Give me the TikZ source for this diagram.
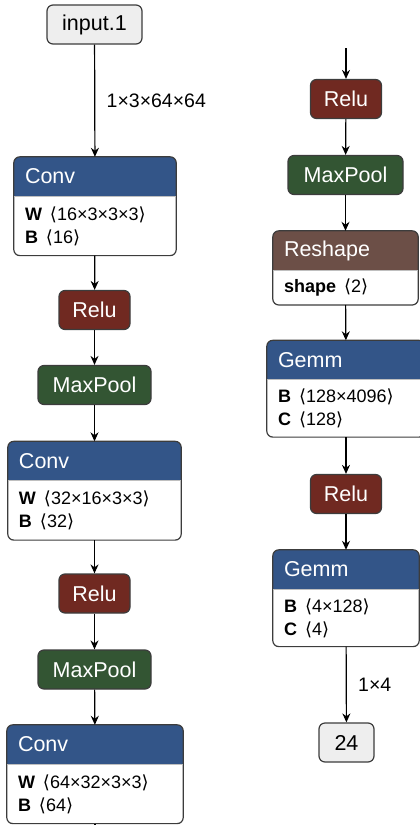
\documentclass[tikz,border=0pt]{standalone}
\usepackage{fontspec}
\setmainfont{Liberation Sans}
\newfontfamily\bracketfont{DejaVu Sans}
\usetikzlibrary{positioning,backgrounds,arrows.meta}

\definecolor{layerblue}{RGB}{51,85,136}
\definecolor{actred}{RGB}{112,41,33}
\definecolor{poolgreen}{RGB}{51,85,51}
\definecolor{shapebrown}{RGB}{108,79,71}
\definecolor{inputgray}{RGB}{238,238,238}
\definecolor{edgegray}{RGB}{60,60,60}

\newcommand{\dims}[1]{\hspace{2pt}{\bracketfont\char"27E8}#1{\bracketfont\char"27E9}}

\tikzset{
  plainbox/.style={draw=edgegray, line width=1.2pt, rounded corners=6pt,
    minimum height=39pt, inner xsep=0pt, font=\fontsize{21.5}{25}\selectfont},
  opbox/.style={plainbox, text=white},
  headbox/.style={text width=#1, minimum height=39pt, inner xsep=11pt,
    inner ysep=0pt, align=left, text=white, font=\fontsize{21.5}{25}\selectfont},
  attrbox/.style={text width=#1, inner xsep=11pt, inner ysep=8.5pt,
    align=left, font=\fontsize{18}{23}\selectfont},
  flow/.style={-{Stealth[length=9pt,width=8pt]}, line width=1.2pt},
  dimlabel/.style={anchor=west, xshift=8pt, font=\fontsize{19.5}{22}\selectfont}
}

% frame of a layer: coloured title part and white attribute part
\newcommand{\layerframe}[3]{%
  \begin{scope}[on background layer]
    \begin{scope}
      \clip[rounded corners=6pt] (#1.north west) rectangle (#2.south east);
      \fill[#3] (#1.north west) rectangle (#1.south east);
      \fill[white] (#2.north west) rectangle (#2.south east);
    \end{scope}
    \draw[edgegray, line width=1.2pt, rounded corners=6pt]
      (#1.north west) rectangle (#2.south east);
    \draw[black!25, line width=0.8pt] (#1.south west) -- (#1.south east);
  \end{scope}
}

\begin{document}
\begin{tikzpicture}[x=1pt, y=-1pt]
  \useasboundingbox (0,0) rectangle (420,825);

  % left column
  \node[plainbox, fill=inputgray, minimum width=95pt] (input) at (94.5,24.5) {input.1};

  \node[headbox=140pt] (conv1) at (95,176.5) {Conv};
  \node[attrbox=140pt, minimum height=59pt, below=0pt of conv1] (conv1p)
    {\textbf{W} \dims{16×3×3×3}\\\textbf{B} \dims{16}};
  \layerframe{conv1}{conv1p}{layerblue}

  \node[opbox, fill=actred, minimum width=71pt] (relu1) at (94.5,310) {Relu};
  \node[opbox, fill=poolgreen, minimum width=113pt] (pool1) at (94.5,385) {MaxPool};

  \node[headbox=151pt] (conv2) at (94.5,461) {Conv};
  \node[attrbox=151pt, minimum height=59pt, below=0pt of conv2] (conv2p)
    {\textbf{W} \dims{32×16×3×3}\\\textbf{B} \dims{32}};
  \layerframe{conv2}{conv2p}{layerblue}

  \node[opbox, fill=actred, minimum width=71pt] (relu2) at (94.5,593.5) {Relu};
  \node[opbox, fill=poolgreen, minimum width=113pt] (pool2) at (94.5,669.5) {MaxPool};

  \node[headbox=154pt] (conv3) at (95,744.5) {Conv};
  \node[attrbox=154pt, minimum height=59pt, below=0pt of conv3] (conv3p)
    {\textbf{W} \dims{64×32×3×3}\\\textbf{B} \dims{64}};
  \layerframe{conv3}{conv3p}{layerblue}
  \coordinate (leftend) at (95,840);

  % right column
  \coordinate (rightstart) at (346,48);
  \node[opbox, fill=actred, minimum width=71pt] (relu3) at (346,99) {Relu};
  \node[opbox, fill=poolgreen, minimum width=115pt] (pool3) at (345.5,175) {MaxPool};

  \node[headbox=123pt] (reshape) at (345.5,250.5) {Reshape};
  \node[attrbox=123pt, minimum height=33pt, below=0pt of reshape] (reshapep) {\textbf{shape} \dims{2}};
  \layerframe{reshape}{reshapep}{shapebrown}

  \node[headbox=136pt] (gemm1) at (346,360) {Gemm};
  \node[attrbox=136pt, minimum height=57pt, below=0pt of gemm1] (gemm1p)
    {\textbf{B} \dims{128×4096}\\\textbf{C} \dims{128}};
  \layerframe{gemm1}{gemm1p}{layerblue}

  \node[opbox, fill=actred, minimum width=71pt] (relu4) at (346,494) {Relu};

  \node[headbox=124pt] (gemm2) at (346,569.5) {Gemm};
  \node[attrbox=124pt, minimum height=57pt, below=0pt of gemm2] (gemm2p)
    {\textbf{B} \dims{4×128}\\\textbf{C} \dims{4}};
  \layerframe{gemm2}{gemm2p}{layerblue}

  \node[plainbox, fill=inputgray, minimum width=55pt] (output) at (346.5,742.5) {24};

  % connections
  \draw[flow] (input) -- node[dimlabel] {1×3×64×64} (conv1);
  \draw[flow] (conv1p) -- (relu1);
  \draw[flow] (relu1) -- (pool1);
  \draw[flow] (pool1) -- (conv2);
  \draw[flow] (conv2p) -- (relu2);
  \draw[flow] (relu2) -- (pool2);
  \draw[flow] (pool2) -- (conv3);
  \draw[line width=1.2pt] (conv3p) -- (leftend);
  \draw[flow] (rightstart) -- (relu3);
  \draw[flow] (relu3) -- (pool3);
  \draw[flow] (pool3) -- (reshape);
  \draw[flow] (reshapep) -- (gemm1);
  \draw[flow] (gemm1p) -- (relu4);
  \draw[flow] (relu4) -- (gemm2);
  \draw[flow] (gemm2p) -- node[dimlabel] {1×4} (output);
\end{tikzpicture}
\end{document}
